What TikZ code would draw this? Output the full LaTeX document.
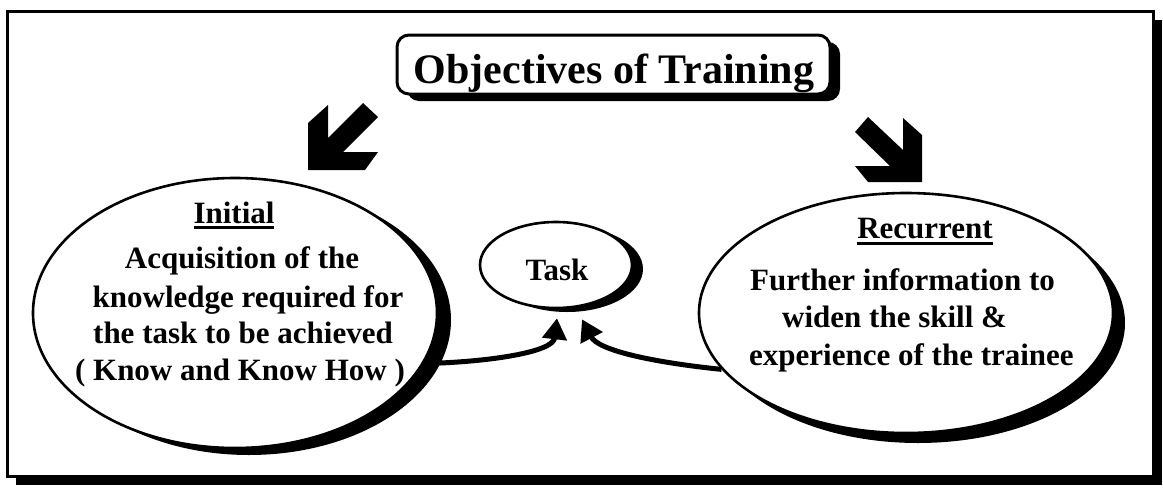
\documentclass[tikz,border=0pt]{standalone}
\usepackage{fontspec}
\setmainfont{Liberation Serif}
\usetikzlibrary{shapes.geometric,shadows,arrows.meta}
\newcommand\ulword[2]{\vtop{\hbox{#1}\kern#2\hrule height 2.6pt}}
\begin{document}
\begin{tikzpicture}[x=1pt,y=-1pt,
  oval/.style={ellipse, draw, line width=2.6pt, fill=white, inner sep=0pt},
  shad/.style 2 args={drop shadow={shadow xshift=#1, shadow yshift=#2, opacity=1, fill=black}},
  txt/.style={font=\fontsize{31}{37}\selectfont\bfseries, inner sep=0pt},
  conn/.style={line width=5pt, -{Triangle[length=21pt,width=24pt]}},
  blockarrow/.style={fill=black}]
\useasboundingbox (0,0) rectangle (1163,491);
% frame
\draw[line width=3pt, fill=white, shad={9pt}{-9pt}] (7,11) rectangle (1153,476);
% title
\node[draw, line width=3pt, fill=white, rounded corners=12pt, minimum width=433pt, minimum height=59pt, inner sep=0pt, shad={10pt}{-7pt}] (titlebox) at (613.5,64.5) {};
\node[font=\fontsize{42}{48}\selectfont\bfseries, anchor=base, inner sep=0pt] (title) at (614,83) {Objectives of Training};
% block arrows
\path[blockarrow] (308,123) -- (328,105) -- (328,138) -- (363,103) -- (378,117) -- (343,152) -- (378,152) -- (365,170) -- (308,170) -- cycle;
\path[blockarrow] (855,166) -- (890,166) -- (855,132) -- (868,117) -- (903,150) -- (903,118) -- (922,135) -- (922,182) -- (868,182) -- cycle;
% ellipses
\node[oval, minimum width=404pt, minimum height=270pt, shad={14pt}{-7pt}] (initial) at (235,313) {};
\node[oval, minimum width=414pt, minimum height=240pt, shad={12pt}{-10pt}] (recur) at (906,313) {};
\node[oval, minimum width=152pt, minimum height=86pt, shad={11pt}{-4pt}] (task) at (556,265) {};
% connectors
\draw[conn] (initial.-15) .. controls (490,362) and (553,352) .. ([xshift=1pt,yshift=-9pt]task.south);
\draw[conn] (recur.-163) .. controls (650,362) and (598,350) .. ([xshift=26pt,yshift=-10pt]task.south);
% texts
\node[txt, anchor=base] (tasktext) at (557,280) {Task};
\node[txt, anchor=base] (inititle) at (234,223) {\ulword{Initial}{3pt}};
\node[txt, anchor=base] (i1) at (242,268) {Acquisition of the};
\node[txt, anchor=base] (i2) at (248,307) {knowledge required for};
\node[txt, anchor=base] (i3) at (243,343) {the task to be achieved};
\node[txt, anchor=base] (i4) at (240,380) {( Know and Know How )};
\node[txt, anchor=base] (rectitle) at (925,238) {\ulword{Recurrent}{4pt}};
\node[txt, anchor=base west] (r1) at (750,290) {Further information to};
\node[txt, anchor=base west] (r2) at (782,327) {widen the skill \&};
\node[txt, anchor=base west] (r3) at (749,365) {experience of the trainee};
\end{tikzpicture}
\end{document}
